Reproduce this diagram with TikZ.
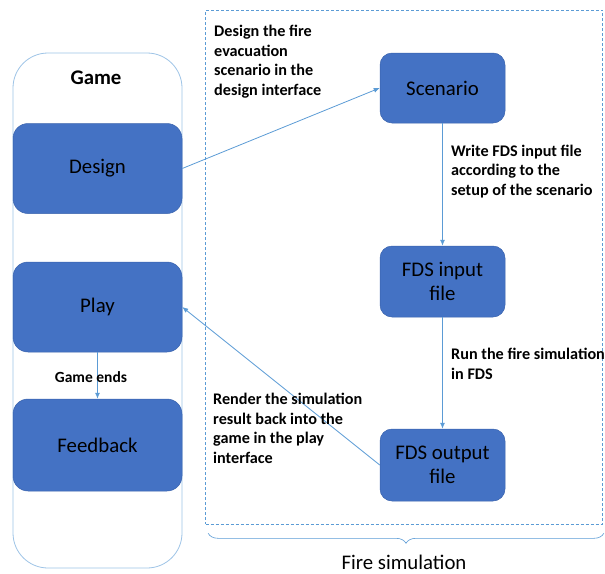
\documentclass[tikz,border=0pt]{standalone}
\usepackage{fontspec}
\setmainfont{Carlito}
\usetikzlibrary{arrows.meta,positioning,calc,decorations.pathreplacing}
\definecolor{BoxFill}{HTML}{4472C4}
\definecolor{BoxLine}{HTML}{3A63AD}
\definecolor{Wire}{HTML}{5B9BD5}
\definecolor{Frame}{HTML}{9DC3E6}
\tikzset{
  >={Latex[length=6pt,width=5pt]},
  stage/.style={rectangle,rounded corners=15pt,fill=BoxFill,draw=BoxLine,line width=.5pt,
    minimum width=169pt,minimum height=90pt,inner sep=0pt,align=center,
    font=\fontsize{20.8}{24.5}\selectfont},
  simbox/.style={stage,rounded corners=12pt,minimum width=125pt,minimum height=71pt},
  holder/.style={rectangle,rounded corners=35pt,draw=Frame,line width=.8pt,
    minimum width=169pt,minimum height=515pt,inner sep=0pt},
  simframe/.style={rectangle,draw=Wire,dash pattern=on 3pt off 2pt,line width=.6pt,
    minimum width=397pt,minimum height=514pt,inner sep=0pt},
  flow/.style={->,draw=Wire,line width=.8pt},
  bracket/.style={draw=Wire,line width=.6pt,decorate,decoration={brace,mirror,amplitude=10pt}},
  note/.style={font=\fontsize{16.2}{19.5}\selectfont\bfseries,align=left,inner sep=0pt,anchor=base west},
  title/.style={font=\fontsize{20.8}{24.5}\selectfont,inner sep=0pt,anchor=base}
}
\begin{document}
\begin{tikzpicture}[x=1pt,y=-1pt]
    \useasboundingbox (0,0) rectangle (605,573);
    % game side
    \node[holder] (game) at (97.5,310.5) {};
    \node[title,font=\fontsize{20.8}{24.5}\selectfont\bfseries] (gamename) at (96,84) {Game};
    \node[stage] (design) at (97.5,168.5) {Design};
    \node[stage] (play) at (97.5,307) {Play};
    \node[stage,minimum height=92pt] (feedback) at (97.5,445) {Feedback};
    \draw[flow] (play) -- (feedback);
    \node[title,font=\fontsize{15.5}{19.5}\selectfont\bfseries] (ends) at (91,382) {Game ends};
    % simulation side
    \node[simframe] (fire) at (404,267) {};
    \node[simbox,minimum height=70pt] (scenario) at (442.5,88) {Scenario};
    \node[simbox] (fdsin) at (442.5,281.5) {FDS input\\file};
    \node[simbox,minimum height=72pt] (fdsout) at (442.5,465) {FDS output\\file};
    \draw[flow] (scenario) -- (fdsin);
    \draw[flow] (fdsin) -- (fdsout);
    \draw[flow] (design.east) -- (scenario.west);
    \draw[flow] (fdsout.west) -- (play.east);
    % notes sit on their last baseline
    \node[note] (designnote) at (214,95) {Design the fire\\evacuation\\scenario in the\\design interface};
    \node[note] (writenote) at (451,195) {Write FDS input file\\according to the\\setup of the scenario};
    \node[note] (runnote) at (451,379) {Run the fire simulation\\in FDS};
    \node[note] (rendernote) at (213,463) {Render the simulation\\result back into the\\game in the play\\interface};
    % brace
    \coordinate (bl) at ($(fire.south west)+(3,9)$);
    \coordinate (br) at ($(fire.south east)+(1,9)$);
    \draw[bracket] (bl) -- (br);
    \node[title] (firename) at (404,569) {Fire simulation};
\end{tikzpicture}
\end{document}
